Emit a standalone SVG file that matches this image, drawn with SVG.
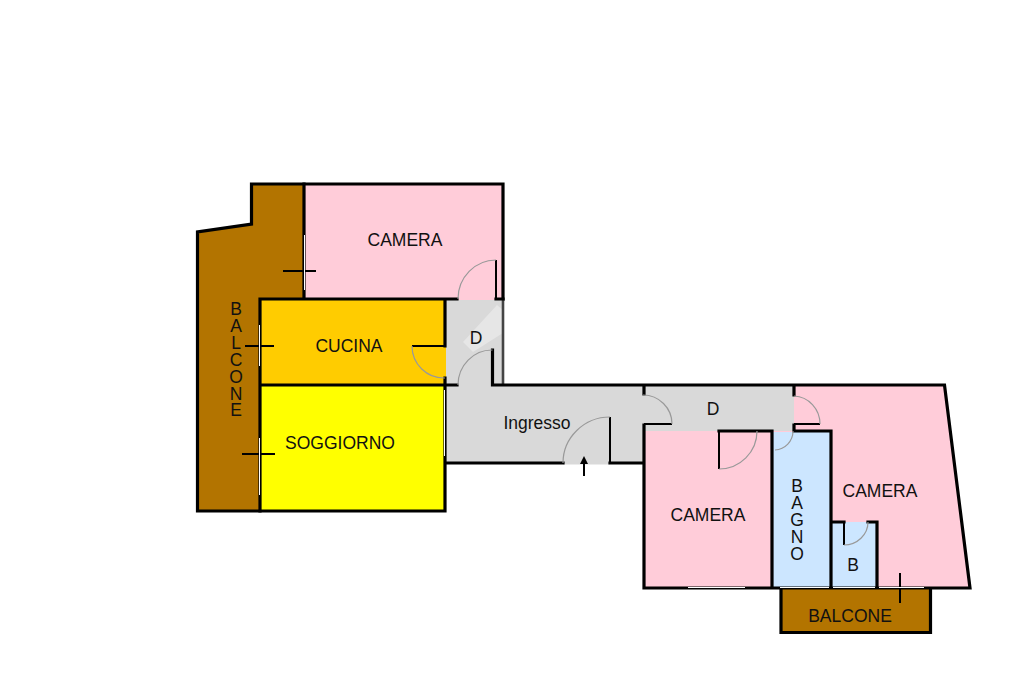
<svg xmlns="http://www.w3.org/2000/svg" width="1024" height="682" viewBox="0 0 1024 682">
<style>
.room{stroke:none}
.wall{fill:none;stroke:#000;stroke-width:3.2;stroke-linecap:square;stroke-linejoin:miter}
.stub{fill:none;stroke:#000;stroke-width:2}
.arc{fill:none;stroke:#999;stroke-width:1.2}
.win{fill:none;stroke:#fff;stroke-width:1}
.pink{fill:#ffccd9}.brown{fill:#b37400}.gray{fill:#d9d9d9}.blue{fill:#cce6ff}
text{font-family:"Liberation Sans",Arial,sans-serif;font-size:17.5px;fill:#111;text-anchor:middle}
text.vert{writing-mode:vertical-rl;text-orientation:upright;text-anchor:start;letter-spacing:-3.1px}
</style>
<rect width="1024" height="682" fill="#fff"/>
<g id="balcone-ovest">
<polygon class="room brown" points="251.5,184 304,184 304,299 260,299 260,511 197.5,511 197.5,232 251.5,224"/>
<polyline class="wall" points="304,184 251.5,184 251.5,224 197.5,232 197.5,511 260,511"/>
<text class="vert" x="236" y="299">BALCONE</text>
</g>
<g id="camera-nord">
<rect class="room pink" x="304" y="184" width="199" height="116"/>
<polyline class="wall" points="304,299 304,184 503,184 503,299"/>
<text x="405" y="246">CAMERA</text>
</g>
<g id="disimpegno-nord">
<rect class="room gray" x="445" y="300" width="58" height="86"/>
<polygon fill="#e6e6e6" points="463,342 497,305 503,310 503,333 473,352"/>
<line x1="503" y1="300" x2="503" y2="385" stroke="#444" stroke-width="2.6"/>
<text x="476" y="344">D</text>
</g>
<g id="cucina">
<rect class="room" fill="#ffcc00" x="260" y="299" width="186" height="86"/>
<text x="349" y="352">CUCINA</text>
</g>
<g id="soggiorno">
<rect class="room" fill="#ffff00" x="260" y="385" width="185" height="126"/>
<text x="340" y="449">SOGGIORNO</text>
</g>
<g id="ingresso">
<rect class="room gray" x="445" y="385" width="199" height="78"/>
<rect class="room gray" x="563" y="463" width="47" height="1.5"/>
<text x="537" y="429">Ingresso</text>
</g>
<g id="disimpegno-est">
<rect class="room gray" x="644" y="385" width="150" height="46"/>
<text x="713" y="415">D</text>
</g>
<g id="camera-est">
<polygon class="room pink" points="794,385 944.500,385 970,588 772,588 772,431 794,431"/>
<text x="880" y="497">CAMERA</text>
</g>
<g id="camera-centro">
<rect class="room pink" x="644" y="431" width="128" height="157"/>
<text x="708" y="521">CAMERA</text>
</g>
<g id="bagno">
<rect class="room blue" x="773" y="432" width="58" height="156"/>
<text class="vert" x="797" y="476">BAGNO</text>
</g>
<g id="bagno-piccolo">
<rect class="room blue" x="831" y="522" width="46" height="66"/>
<text x="853" y="571">B</text>
</g>
<g id="balcone-sud">
<rect class="room brown" x="781" y="589" width="149.500" height="43.500"/>
<text x="850" y="622">BALCONE</text>
</g>
<g id="walls">
<path class="wall" d="M260 511V299M260 299H457M445 299V346M445 378V463M260 385H457M260 511H445V463M496 299H503M492.500 350V385H644M445 463H563M610 463H644V425M644 385V394M644 385H794V395M794 425V431M644 431V588H772V431H719M757 431H772M794 431H831V522M831 522H844M868 522H877V588M831 522V588M772 588H970L944.500 385H794M781 588V632.500H930.500V588"/>
</g>
<g id="connectors">
<path class="stub" d="M496 260V299M412 346H445M610 417V463M644 424H672M794 424H820M719 431V469M844 522V545M283 271H316M245 346H274M242 454H275M900 573V603"/>
<path class="stub" d="M584 476V462"/>
<polygon points="584,456 580,464 588,464" fill="#000"/>
<path class="arc" d="M496 260A38 39 0 0 0 458 299M412 346A32 32 0 0 0 445 378M492.500 350A34 35 0 0 0 458 385M610 417A47 46 0 0 0 563 463M643 395A29 29 0 0 1 672 424M794 396A27 28 0 0 1 820 424M757 431A38 38 0 0 1 719 469M793 431A19 19 0 0 1 775 450M868 522A24 23 0 0 1 844 545"/>
<path class="win" d="M304.500 235V290M259.500 325V366M259.500 438V495M444.500 390V456M688 587.500H745M780 587.500H829M833 587.500H875M879 587.500H924"/>
</g>
</svg>
